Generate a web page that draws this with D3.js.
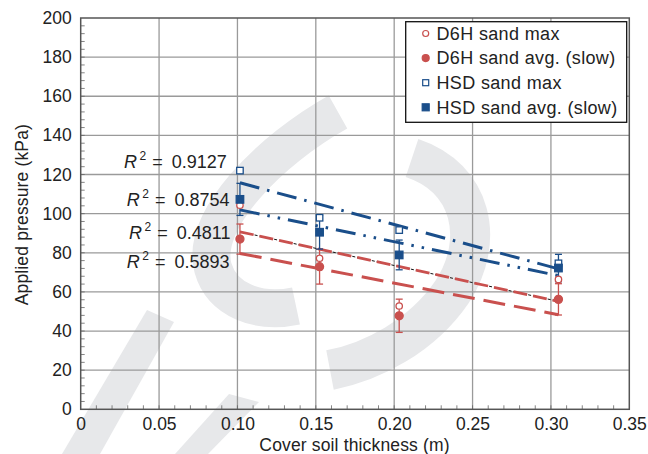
<!DOCTYPE html>
<meta charset="utf-8">
<style>
  body { margin: 0; background: #fff; }
  text { font-family: "Liberation Sans", Arial, sans-serif; fill: #222; }
</style>

<svg width="648" height="454"></svg>
<script src="https://d3js.org/d3.v7.min.js"></script>
<script>

    // data (cover thickness = 4, 6, 8, 12 in)
    var thickness = [0.1016, 0.1524, 0.2032, 0.3048];
    var d6hMax = [104.3, 77.2, 52.8, 66.4];
    var d6hAvg = [87.0, 72.9, 47.8, 56.2];
    var d6hErr = [7.7, 8.9, 8.5, 8.0];
    var hsdMax = [122.0, 97.9, 91.6, 74.6];
    var hsdAvg = [107.3, 90.5, 78.9, 72.2];
    var hsdErr = [8.2, 8.6, 7.6, 7.0];

    var r2Labels = ["0.9127", "0.8754", "0.4811", "0.5893"];
    var legendLabels = ["D6H sand max", "D6H sand avg. (slow)", "HSD sand max", "HSD sand avg. (slow)"];
    var xTicks = [0, 0.05, 0.10, 0.15, 0.20, 0.25, 0.30, 0.35];
    var xTickLabels = ["0", "0.05", "0.10", "0.15", "0.20", "0.25", "0.30", "0.35"];
    var yTicks = [0, 20, 40, 60, 80, 100, 120, 140, 160, 180, 200];

    var red = "#c9504e", blue = "#1a4e8a";

    var svg = d3.select("svg");
    var margin = {left: 80.7, right: 18.7, top: 18, bottom: 44.7};
    var width = 648 - margin.left - margin.right,
        height = 454 - margin.top - margin.bottom;

    // watermark in the background
    var wm = svg.append("g").attr("fill", "#e7e8ea").attr("stroke", "#e7e8ea");
    wm.append("path").attr("fill", "none").attr("stroke-width", 38)
        .attr("d", "M338,112 C270,150 200,220 213,268 C222,300 258,314 296,306");
    wm.append("path").attr("fill", "none").attr("stroke-width", 40)
        .attr("d", "M412,158 C472,178 486,240 452,292 C422,336 372,362 330,370");
    wm.append("path").attr("stroke", "none").attr("d", "M147,310 L174,322 L100,454 L62,454 Z");
    wm.append("path").attr("stroke", "none").attr("d", "M229,394 L259,402 L208,454 L175,454 Z");

    var g = svg.append("g").attr("transform", "translate(" + margin.left + "," + margin.top + ")");

    var x = d3.scaleLinear().domain([0, 0.35]).range([0, width]);
    var y = d3.scaleLinear().domain([0, 200]).range([height, 0]);

    // grid
    g.append("g").selectAll("line").data(xTicks.slice(1, -1)).enter().append("line")
        .attr("x1", x).attr("x2", x).attr("y1", 0).attr("y2", height)
        .attr("stroke", "#9a9a9a").attr("stroke-width", 1.3);
    g.append("g").selectAll("line").data(yTicks.slice(1, -1)).enter().append("line")
        .attr("y1", y).attr("y2", y).attr("x1", 0).attr("x2", width)
        .attr("stroke", "#9a9a9a").attr("stroke-width", 1.3);

    // minor ticks pointing inward
    g.append("g").selectAll("line").data(d3.range(1, 35)).enter().append("line")
        .attr("x1", function(d) { return x(d / 100); }).attr("x2", function(d) { return x(d / 100); })
        .attr("y1", height).attr("y2", height - 4)
        .attr("stroke", "#666").attr("stroke-width", 0.8);
    g.append("g").selectAll("line").data(d3.range(4, 200, 4)).enter().append("line")
        .attr("y1", y).attr("y2", y).attr("x1", 0).attr("x2", 4)
        .attr("stroke", "#666").attr("stroke-width", 0.8);

    // frame
    g.append("rect").attr("width", width).attr("height", height)
        .attr("fill", "none").attr("stroke", "#555").attr("stroke-width", 1.5);

    // axes labels
    var xAxis = d3.axisBottom(x).tickValues(xTicks)
        .tickFormat(function(d, i) { return xTickLabels[i]; }).tickSize(0).tickPadding(8);
    var yAxis = d3.axisLeft(y).tickValues(yTicks).tickSize(0).tickPadding(9);
    var gx = g.append("g").attr("transform", "translate(0," + height + ")").call(xAxis);
    var gy = g.append("g").call(yAxis);
    [gx, gy].forEach(function(a) {
        a.select(".domain").remove();
        a.selectAll("text").attr("font-size", 17.5).attr("fill", "#222")
            .attr("font-family", "Liberation Sans, Arial, sans-serif");
    });

    svg.append("text").attr("x", margin.left + width / 2 - 0.5).attr("y", 451)
        .attr("text-anchor", "middle").attr("font-size", 17.5).attr("letter-spacing", 0.15)
        .text("Cover soil thickness (m)");
    svg.append("text").attr("transform", "translate(28," + (margin.top + height / 2 + 1) + ") rotate(-90)")
        .attr("text-anchor", "middle").attr("font-size", 17.5).attr("letter-spacing", 0.15)
        .text("Applied pressure (kPa)");

    // linear fits
    function fit(ys) {
        var mx = d3.mean(thickness), my = d3.mean(ys);
        var sxy = d3.sum(thickness, function(t, i) { return (t - mx) * (ys[i] - my); });
        var sxx = d3.sum(thickness, function(t) { return (t - mx) * (t - mx); });
        var b = sxy / sxx;
        return [thickness[0], thickness[3]].map(function(t) { return [t, my + b * (t - mx)]; });
    }
    var line = d3.line().x(function(d) { return x(d[0]); }).y(function(d) { return y(d[1]); });

    var fits = [
        {ys: hsdMax, color: blue, w: 3, dash: "20,8,2.5,8"},
        {ys: hsdAvg, color: blue, w: 3, dash: "20,8,2.5,8,2.5,8"},
        {ys: d6hMax, color: "#111", w: 1, dash: "3,2"},
        {ys: d6hMax, color: red, w: 2.8, dash: "14,6"},
        {ys: d6hAvg, color: red, w: 3, dash: "22,9"}
    ];
    fits.forEach(function(f) {
        g.append("path").datum(fit(f.ys)).attr("d", line).attr("fill", "none")
            .attr("stroke", f.color).attr("stroke-width", f.w).attr("stroke-dasharray", f.dash);
    });

    // error bars
    function errorBars(ys, errs, color) {
        var eg = g.append("g").attr("stroke", color).attr("stroke-width", 1.3);
        thickness.forEach(function(t, i) {
            var cx = x(t);
            eg.append("line").attr("x1", cx).attr("x2", cx)
                .attr("y1", y(ys[i] + errs[i])).attr("y2", y(ys[i] - errs[i]));
            [ys[i] + errs[i], ys[i] - errs[i]].forEach(function(v) {
                eg.append("line").attr("x1", cx - 3.5).attr("x2", cx + 3.5)
                    .attr("y1", y(v)).attr("y2", y(v));
            });
        });
    }
    errorBars(d6hAvg, d6hErr, red);
    errorBars(hsdAvg, hsdErr, blue);

    // markers
    function circles(sel, ys, filled) {
        sel.selectAll(null).data(ys).enter().append("circle")
            .attr("cx", function(d, i) { return x(thickness[i]); })
            .attr("cy", function(d) { return y(d); })
            .attr("r", filled ? 4 : 3.2)
            .attr("fill", filled ? red : "#fff").attr("stroke", red).attr("stroke-width", 1.3);
    }
    function squares(sel, ys, filled) {
        var s = filled ? 7.5 : 6.5;
        sel.selectAll(null).data(ys).enter().append("rect")
            .attr("x", function(d, i) { return x(thickness[i]) - s / 2; })
            .attr("y", function(d) { return y(d) - s / 2; })
            .attr("width", s).attr("height", s)
            .attr("fill", filled ? blue : "#fff").attr("stroke", blue).attr("stroke-width", 1.3);
    }
    var mg = g.append("g");
    circles(mg, d6hMax, false);
    circles(mg, d6hAvg, true);
    squares(mg, hsdMax, false);
    squares(mg, hsdAvg, true);

    // R^2 annotations
    var r2Pos = [123.5, 104.1, 86.9, 72.1];
    var r2Left = [0.0277, 0.0294, 0.0308, 0.0294];
    r2Labels.forEach(function(v, i) {
        var t = g.append("text").attr("x", x(r2Left[i])).attr("y", y(r2Pos[i]))
            .attr("font-size", 18);
        t.append("tspan").attr("font-style", "italic").text("R");
        t.append("tspan").attr("font-size", 12).attr("dy", -8).attr("dx", 2.5).text("2");
        t.append("tspan").attr("dy", 8).attr("dx", 6).text("=");
        t.append("tspan").attr("dx", 9).text(v);
    });

    // legend
    var lg = svg.append("g");
    lg.append("rect").attr("x", 405.7).attr("y", 21.7).attr("width", 221).attr("height", 100.6)
        .attr("fill", "#fff").attr("stroke", "#111").attr("stroke-width", 1.3);
    legendLabels.forEach(function(lab, i) {
        var ly = 33.5 + i * 24.6;
        var filled = i % 2 === 1;
        var color = i < 2 ? red : blue;
        if (i < 2) {
            lg.append("circle").attr("cx", 425.7).attr("cy", ly).attr("r", filled ? 3.5 : 3)
                .attr("fill", filled ? color : "#fff").attr("stroke", color).attr("stroke-width", 1.2);
        } else {
            var s = filled ? 7 : 6;
            lg.append("rect").attr("x", 425.7 - s / 2).attr("y", ly - s / 2).attr("width", s).attr("height", s)
                .attr("fill", filled ? color : "#fff").attr("stroke", color).attr("stroke-width", 1.2);
        }
        lg.append("text").attr("x", 436.5).attr("y", ly + 6.2).attr("font-size", 18)
            .attr("letter-spacing", 0.35).text(lab);
    });
</script>
